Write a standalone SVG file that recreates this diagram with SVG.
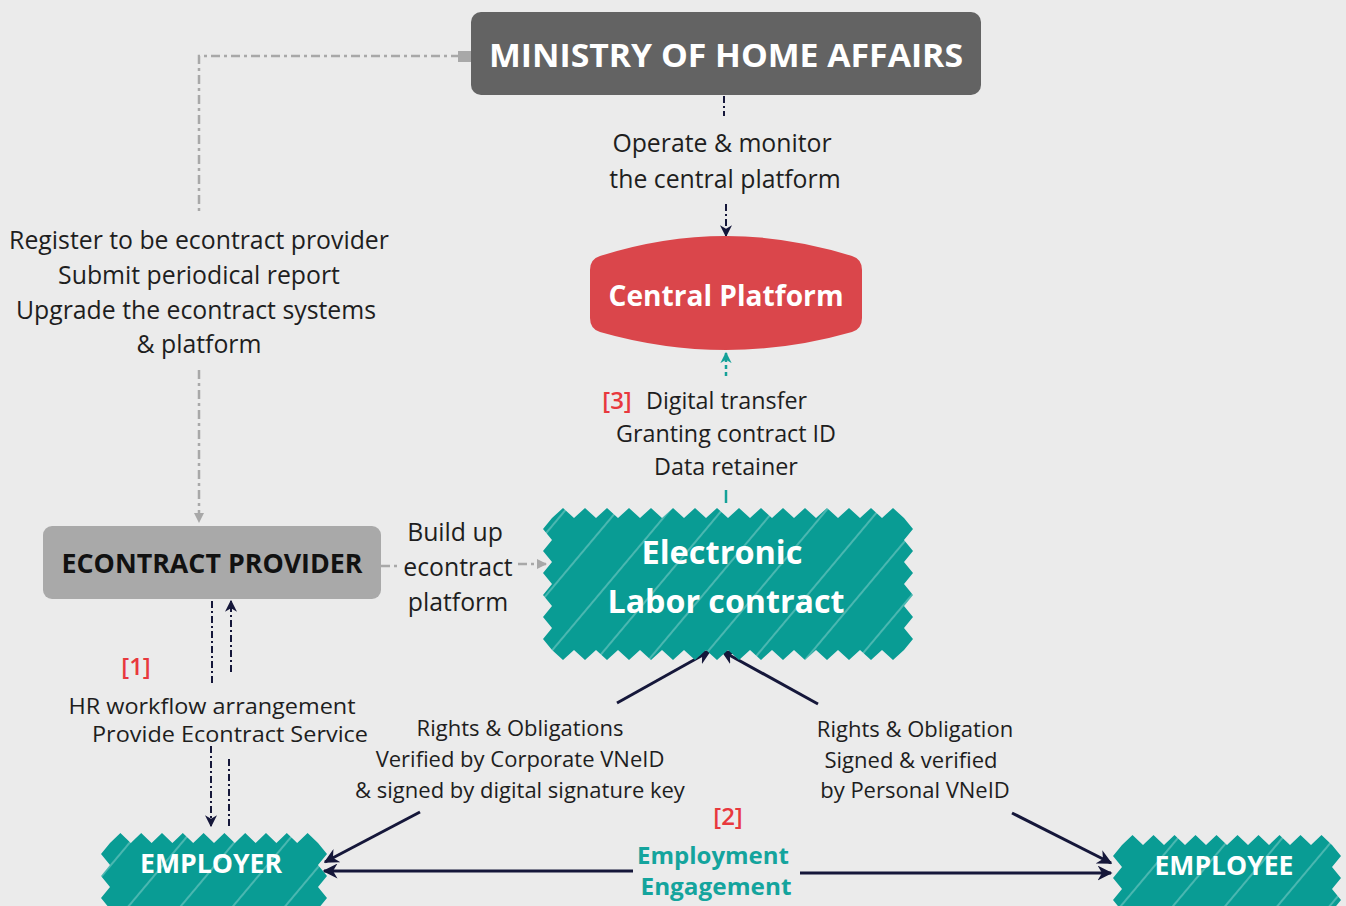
<svg xmlns="http://www.w3.org/2000/svg" width="1346" height="906" viewBox="0 0 1346 906">
<defs>
<style>
.t{font-family:"Open Sans","Noto Sans",sans-serif;font-size:22px;fill:#1e1e1e;text-anchor:middle}
.L{font-size:24.8px}
.M{font-size:23.3px}
.H{font-size:22.6px}
.red{fill:#e8383d;font-weight:600;font-size:24px}
.b{font-family:"Open Sans","Noto Sans",sans-serif;font-weight:bold;text-anchor:middle}
.w{fill:#ffffff}
.nav{stroke:#15173a;stroke-width:3;fill:none}
.navd{stroke:#15173a;stroke-width:2;fill:none;stroke-dasharray:7 3 2 3}
.gry{stroke:#a8a8a8;stroke-width:2.5;fill:none;stroke-dasharray:9 4 3 4}
.tl{stroke:#14a198;stroke-width:2.5;fill:none;stroke-dasharray:4 3}
.hatch{fill:url(#hp)}
</style>
<pattern id="hp" patternUnits="userSpaceOnUse" width="40" height="40" patternTransform="rotate(40)">
<rect width="40" height="40" fill="#099c94"/>
<line x1="1" y1="0" x2="1" y2="40" stroke="#86d0cb" stroke-width="1.3" opacity="0.8"/>
</pattern>
<marker id="an" viewBox="0 0 10 10" refX="9" refY="5" markerWidth="5" markerHeight="5" orient="auto" markerUnits="strokeWidth">
<path d="M0,0 L10,5 L0,10 L3,5 z" fill="#15173a"/>
</marker>
<marker id="an2" viewBox="0 0 10 10" refX="9" refY="5" markerWidth="6" markerHeight="6" orient="auto" markerUnits="strokeWidth">
<path d="M0,0 L10,5 L0,10 L3,5 z" fill="#15173a"/>
</marker>
<marker id="ag" viewBox="0 0 10 10" refX="9" refY="5" markerWidth="4" markerHeight="4" orient="auto" markerUnits="strokeWidth">
<path d="M0,0 L10,5 L0,10 z" fill="#a8a8a8"/>
</marker>
<marker id="at" viewBox="0 0 10 10" refX="9" refY="5" markerWidth="4.5" markerHeight="4.5" orient="auto" markerUnits="strokeWidth">
<path d="M0,0 L10,5 L0,10 L3,5 z" fill="#14a198"/>
</marker>
</defs>
<rect width="1346" height="906" fill="#ebebeb"/>

<g id="connectors">
<path class="navd" d="M724 96 V116"/>
<path class="navd" d="M726 204 V236" marker-end="url(#an2)"/>
<path class="tl" d="M726 376 V353" marker-end="url(#at)"/>
<path d="M726 490 V503" stroke="#14a198" stroke-width="2.5"/>
<rect x="458" y="51" width="13" height="11" fill="#a8a8a8"/>
<path class="gry" d="M460 56 H199 V212"/>
<path class="gry" d="M199 370 V522" marker-end="url(#ag)"/>
<path class="gry" d="M381 566 H398"/>
<path class="gry" d="M518 564 H546" marker-end="url(#ag)"/>
<path class="navd" d="M212 601 V686"/>
<path class="navd" d="M211 746 V826" marker-end="url(#an2)"/>
<path class="navd" d="M231 672 V601" marker-end="url(#an2)"/>
<path class="navd" d="M229 826 V758"/>
<path class="nav" d="M617 703 L710 651" marker-end="url(#an)"/>
<path class="nav" d="M818 704 L722 651" marker-end="url(#an)"/>
<path class="nav" d="M420 812 L325 862" marker-end="url(#an)"/>
<path class="nav" d="M1012 813 L1111 863" marker-end="url(#an)"/>
<path class="nav" d="M633 871 H324" marker-end="url(#an)"/>
<path class="nav" d="M800 873 H1111" marker-end="url(#an)"/>
</g>

<g id="ministry">
<rect x="471" y="12" width="510" height="83" rx="10" fill="#636363"/>
<text class="b w" x="726" y="67" font-size="33" textLength="474" lengthAdjust="spacingAndGlyphs">MINISTRY OF HOME AFFAIRS</text>
</g>

<g id="central-platform">
<path d="M600 256 Q726 216 852 256 Q862 259 862 270 V318 Q862 329 852 332 Q726 368 600 332 Q590 329 590 318 V270 Q590 259 600 256 Z" fill="#da464b"/>
<text class="b w" x="726" y="306" font-size="29" textLength="235" lengthAdjust="spacingAndGlyphs">Central Platform</text>
</g>

<g id="electronic-labor-contract">
<path class="hatch" d="M552 518 l11 -10 l11 10 l11 -10 l11 10 l11 -10 l11 10 l11 -10 l11 10 l11 -10 l11 10 l11 -10 l11 10 l11 -10 l11 10 l11 -10 l11 10 l11 -10 l11 10 l11 -10 l11 10 l11 -10 l11 10 l11 -10 l11 10 l11 -10 l11 10 l11 -10 l11 10 l11 -10 l11 10 l11 -10 l11 10 l9 11 l-9 11 l9 11 l-9 11 l9 11 l-9 11 l9 11 l-9 11 l9 11 l-9 11 l9 11 l-9 11 l-11 10 l-11 -10 l-11 10 l-11 -10 l-11 10 l-11 -10 l-11 10 l-11 -10 l-11 10 l-11 -10 l-11 10 l-11 -10 l-11 10 l-11 -10 l-11 10 l-11 -10 l-11 10 l-11 -10 l-11 10 l-11 -10 l-11 10 l-11 -10 l-11 10 l-11 -10 l-11 10 l-11 -10 l-11 10 l-11 -10 l-11 10 l-11 -10 l-11 10 l-11 -10 l-9 -11 l9 -11 l-9 -11 l9 -11 l-9 -11 l9 -11 l-9 -11 l9 -11 l-9 -11 l9 -11 l-9 -11 l9 -11 Z"/>
<text class="b w" x="722" y="564" font-size="32" textLength="161" lengthAdjust="spacingAndGlyphs">Electronic</text>
<text class="b w" x="726" y="613" font-size="32" textLength="237" lengthAdjust="spacingAndGlyphs">Labor contract</text>
</g>

<g id="econtract-provider">
<rect x="43" y="526" width="338" height="73" rx="9" fill="#a9a9a9"/>
<text class="b" x="212" y="573" font-size="26" fill="#111111" textLength="301" lengthAdjust="spacingAndGlyphs">ECONTRACT PROVIDER</text>
</g>

<g id="employer">
<path class="hatch" d="M110 843 l10.4 -10 l10.4 10 l10.4 -10 l10.4 10 l10.4 -10 l10.4 10 l10.4 -10 l10.4 10 l10.4 -10 l10.4 10 l10.4 -10 l10.4 10 l10.4 -10 l10.4 10 l10.4 -10 l10.4 10 l10.4 -10 l10.4 10 l10.4 -10 l10.4 10 l9 11 l-9 11 l9 11 l-9 11 l9 11 l-9 11 H110 l-9 -11 l9 -11 l-9 -11 l9 -11 l-9 -11 l9 -11 Z"/>
<text class="b w" x="211" y="873" font-size="26" textLength="142" lengthAdjust="spacingAndGlyphs">EMPLOYER</text>
</g>

<g id="employee">
<path class="hatch" d="M1122 845 l10.5 -10 l10.5 10 l10.5 -10 l10.5 10 l10.5 -10 l10.5 10 l10.5 -10 l10.5 10 l10.5 -10 l10.5 10 l10.5 -10 l10.5 10 l10.5 -10 l10.5 10 l10.5 -10 l10.5 10 l10.5 -10 l10.5 10 l10.5 -10 l10.5 10 l9 11 l-9 11 l9 11 l-9 11 l9 11 l-9 11 H1122 l-9 -11 l9 -11 l-9 -11 l9 -11 l-9 -11 l9 -11 Z"/>
<text class="b w" x="1224" y="875" font-size="26" textLength="139" lengthAdjust="spacingAndGlyphs">EMPLOYEE</text>
</g>

<g id="labels">
<text class="t L" x="722" y="152">Operate &amp; monitor</text>
<text class="t L" x="725" y="188">the central platform</text>
<text class="t L" x="199" y="249">Register to be econtract provider</text>
<text class="t L" x="199" y="284">Submit periodical report</text>
<text class="t L" x="196" y="319">Upgrade the econtract systems</text>
<text class="t L" x="199" y="353">&amp; platform</text>
<text class="t red" x="617" y="409">[3]</text>
<text class="t M" x="646" y="409" style="text-anchor:start">Digital transfer</text>
<text class="t M" x="726" y="442">Granting contract ID</text>
<text class="t M" x="726" y="475">Data retainer</text>
<text class="t L" x="455" y="541">Build up</text>
<text class="t L" x="458" y="576">econtract</text>
<text class="t L" x="458" y="611">platform</text>
<text class="t red" x="136" y="675">[1]</text>
<text class="t H" x="212" y="714" textLength="287" lengthAdjust="spacingAndGlyphs">HR workflow arrangement</text>
<text class="t H" x="230" y="742" textLength="276" lengthAdjust="spacingAndGlyphs">Provide Econtract Service</text>
<text class="t" x="520" y="736">Rights &amp; Obligations</text>
<text class="t" x="520" y="767">Verified by Corporate VNeID</text>
<text class="t" x="520" y="798">&amp; signed by digital signature key</text>
<text class="t" x="915" y="737">Rights &amp; Obligation</text>
<text class="t" x="911" y="768">Signed &amp; verified</text>
<text class="t" x="915" y="798">by Personal VNeID</text>
<text class="t red" x="728" y="825">[2]</text>
<text class="b" x="713" y="864" font-size="23.5" fill="#14a49d" textLength="152" lengthAdjust="spacingAndGlyphs">Employment</text>
<text class="b" x="716" y="895" font-size="23.5" fill="#14a49d" textLength="151" lengthAdjust="spacingAndGlyphs">Engagement</text>
</g>
</svg>
